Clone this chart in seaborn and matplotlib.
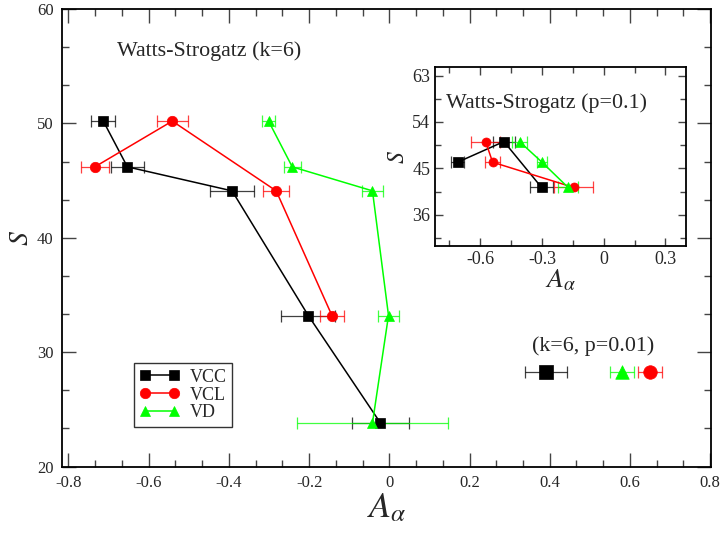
import numpy as np
import pandas as pd
import matplotlib
matplotlib.use("Agg")
import matplotlib.pyplot as plt
import seaborn as sns
from matplotlib.ticker import MultipleLocator, FuncFormatter

# ----------------------------
# Data
# ----------------------------
# main panel: Watts-Strogatz (k=6)
s_main = [50.2, 46.2, 44.1, 33.2, 23.8]
vcc_a = [-0.713, -0.653, -0.392, -0.202, -0.022]
vcc_err = [0.030, 0.042, 0.054, 0.067, 0.072]
vcl_s = [46.2, 50.2, 44.1, 33.2]
vcl_a = [-0.734, -0.541, -0.282, -0.143]
vcl_err = [0.035, 0.038, 0.032, 0.031]
vd_a = [-0.301, -0.242, -0.042, -0.002, -0.042]
vd_err = [0.017, 0.021, 0.026, 0.026, 0.189]

# single points (k=6, p=0.01)
single_labels = ["VCC", "VD", "VCL"]
single_a = [0.390, 0.580, 0.650]
single_s = [28.3, 28.3, 28.3]
single_err = [0.052, 0.031, 0.029]

# inset: Watts-Strogatz (p=0.1)
in_vcc_a = [-0.71, -0.485, -0.302]
in_vcc_s = [46.2, 50.2, 41.3]
in_vcc_err = [0.032, 0.054, 0.057]
in_vcl_a = [-0.574, -0.54, -0.146]
in_vcl_s = [50.2, 46.2, 41.3]
in_vcl_err = [0.069, 0.036, 0.095]
in_vd_a = [-0.409, -0.30, -0.173]
in_vd_s = [50.2, 46.2, 41.3]
in_vd_err = [0.038, 0.023, 0.049]

# style per series
colors = {"VCC": "black", "VCL": "red", "VD": "#00ff00"}
markers = {"VCC": "s", "VCL": "o", "VD": "^"}

sns.set_theme(style="ticks")
plt.rcParams["font.family"] = ["Liberation Serif", "DejaVu Serif"]
plt.rcParams["mathtext.fontset"] = "stix"
plt.rcParams["axes.unicode_minus"] = False

fig = plt.figure(figsize=(7.25, 5.39), dpi=100)
ax = fig.add_axes([0.0855, 0.1345, 0.8952, 0.8488])
axin = fig.add_axes([0.6, 0.5441, 0.3462, 0.331])


def draw_series(axis, a, s, err, name, ms, label=None):
    c = colors[name]
    axis.errorbar(a, s, xerr=err, fmt="none", ecolor=c, elinewidth=0.9,
                  capsize=4.3, capthick=0.9, alpha=0.75, zorder=2)
    df = pd.DataFrame({"a": a, "s": s})
    sns.lineplot(data=df, x="a", y="s", ax=axis, sort=False, estimator=None,
                 color=c, marker=markers[name], markersize=ms, mec=c, mew=0.5,
                 linewidth=1.1, label=label, zorder=3)


# main panel
draw_series(ax, vcc_a, s_main, vcc_err, "VCC", 7, "VCC")
draw_series(ax, vcl_a, vcl_s, vcl_err, "VCL", 7.5, "VCL")
draw_series(ax, vd_a, s_main, vd_err, "VD", 7, "VD")

# single points
for name, a, s, e in zip(single_labels, single_a, single_s, single_err):
    c = colors[name]
    ax.errorbar([a], [s], xerr=[e], fmt="none", ecolor=c, elinewidth=0.9,
                capsize=4.3, capthick=0.9, alpha=0.75, zorder=2)
    sns.scatterplot(x=[a], y=[s], ax=ax, color=c, marker=markers[name],
                    s=95, edgecolor=c, linewidth=0.5, zorder=3, legend=False)

ax.set_xlim(-0.816, 0.802)
ax.set_ylim(20, 60)
ax.xaxis.set_major_locator(MultipleLocator(0.2))
ax.xaxis.set_minor_locator(MultipleLocator(0.2 / 3))
ax.yaxis.set_major_locator(MultipleLocator(10))
ax.yaxis.set_minor_locator(MultipleLocator(10 / 3))
ax.xaxis.set_major_formatter(FuncFormatter(lambda v, p: "%g" % round(v, 2)))
ax.tick_params(which="both", direction="in", top=True, right=True,
               labelsize=12, width=1, color="#444444", pad=6)
ax.tick_params(which="major", length=10)
ax.tick_params(which="minor", length=5)
for sp in ax.spines.values():
    sp.set_linewidth(1.3)
    sp.set_color("black")
ax.set_xlabel("$A_\\alpha$", fontsize=26, labelpad=1)
ax.set_ylabel("$S$", fontsize=20, labelpad=2)

ax.text(0.085, 0.907, "Watts-Strogatz (k=6)", transform=ax.transAxes,
        fontsize=15.8, va="center", ha="left")
ax.text(0.818, 0.263, "(k=6, p=0.01)", transform=ax.transAxes,
        fontsize=15.8, va="center", ha="center")

leg = ax.legend(loc="lower left", bbox_to_anchor=(0.097, 0.067), numpoints=2,
                fontsize=13, frameon=True, fancybox=False, handlelength=2.2,
                handletextpad=0.6, borderpad=0.3, labelspacing=0.05,
                edgecolor="black")
leg.get_frame().set_linewidth(1.0)

# inset
draw_series(axin, in_vcc_a, in_vcc_s, in_vcc_err, "VCC", 6.5)
draw_series(axin, in_vcl_a, in_vcl_s, in_vcl_err, "VCL", 6.5)
draw_series(axin, in_vd_a, in_vd_s, in_vd_err, "VD", 6.5)
axin.set_xlim(-0.82, 0.40)
axin.set_ylim(30, 64.6)
axin.set_xticks([-0.6, -0.3, 0, 0.3])
axin.xaxis.set_minor_locator(MultipleLocator(0.15))
axin.set_yticks([36, 45, 54, 63])
axin.yaxis.set_minor_locator(MultipleLocator(4.5))
axin.xaxis.set_major_formatter(FuncFormatter(lambda v, p: "%g" % round(v, 2)))
axin.tick_params(which="both", direction="in", top=True, right=True,
                 labelsize=13, width=1, color="#444444")
axin.tick_params(which="major", length=6)
axin.tick_params(which="minor", length=4)
for sp in axin.spines.values():
    sp.set_linewidth(1.3)
    sp.set_color("black")
axin.set_xlabel("$A_\\alpha$", fontsize=20, labelpad=0)
axin.set_ylabel("$S$", fontsize=17, labelpad=2)
axin.text(0.045, 0.8, "Watts-Strogatz (p=0.1)", transform=axin.transAxes,
          fontsize=15.8, va="center", ha="left")

fig.savefig("out.png", dpi=100)
